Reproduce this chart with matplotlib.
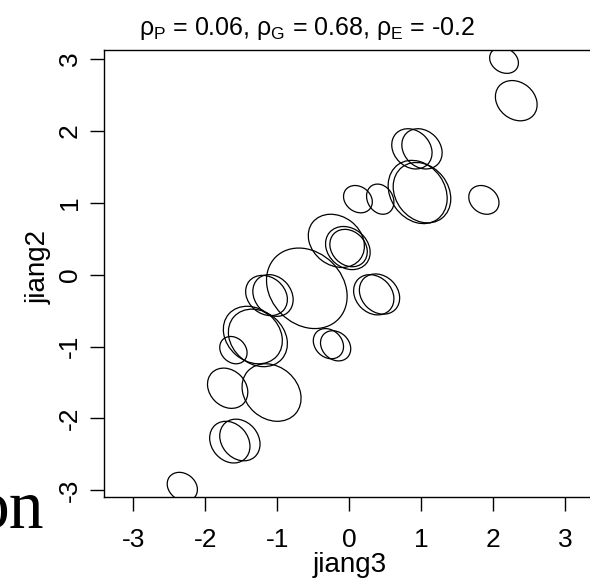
import numpy as np
import matplotlib

matplotlib.use("Agg")
import matplotlib.pyplot as plt
from matplotlib.patches import Ellipse

plt.rcParams["font.family"] = ["Liberation Sans", "DejaVu Sans"]
plt.rcParams["mathtext.fontset"] = "custom"
plt.rcParams["mathtext.rm"] = "Liberation Sans"
plt.rcParams["mathtext.it"] = "Liberation Sans"
plt.rcParams["mathtext.bf"] = "Liberation Sans:bold"

# ellipse centres (jiang3, jiang2), half-extents and shared correlation
cx = [2.15, 2.32, 0.87, 1.01, 0.95, 1.01, 0.12, 0.43, 1.87,
      -0.18, -0.02, -0.01, 0.34, 0.42, -0.29, -0.19, -0.59, -1.15,
      -1.06, -1.34, -1.27, -1.61, -1.69, -1.08, -1.66, -1.52, -2.32]
cy = [2.98, 2.42, 1.75, 1.75, 1.15, 1.14, 1.05, 1.05, 1.04,
      0.47, 0.37, 0.37, -0.28, -0.27, -0.96, -0.99, -0.19, -0.29,
      -0.29, -0.84, -0.88, -1.05, -1.58, -1.64, -2.33, -2.30, -2.95]
sx = [0.20, 0.29, 0.28, 0.28, 0.41, 0.40, 0.20, 0.19, 0.21,
      0.39, 0.31, 0.26, 0.28, 0.28, 0.21, 0.21, 0.56, 0.29,
      0.28, 0.41, 0.41, 0.19, 0.28, 0.41, 0.28, 0.28, 0.21]
sy = [0.18, 0.28, 0.28, 0.28, 0.44, 0.42, 0.19, 0.21, 0.20,
      0.37, 0.30, 0.26, 0.28, 0.28, 0.21, 0.21, 0.56, 0.28,
      0.29, 0.40, 0.40, 0.19, 0.28, 0.40, 0.29, 0.29, 0.20]
rho_e = -0.2

xticks = [-3, -2, -1, 0, 1, 2, 3]
yticks = [-3, -2, -1, 0, 1, 2, 3]

fig = plt.figure(figsize=(5.9, 5.86), dpi=100)
ax = fig.add_axes([104 / 590, 1 - 497 / 586, 490 / 590, 447 / 586])

for x0, y0, a, b in zip(cx, cy, sx, sy):
    cov = np.array([[a * a, rho_e * a * b], [rho_e * a * b, b * b]])
    vals, vecs = np.linalg.eigh(cov)
    ang = np.degrees(np.arctan2(vecs[1, 1], vecs[0, 1]))
    ax.add_patch(Ellipse((x0, y0), 2 * np.sqrt(vals[1]), 2 * np.sqrt(vals[0]),
                         angle=ang, fill=False, ec="black", lw=0.9))

ax.set_xlim(-3.408, 3.40)
ax.set_ylim(-3.093, 3.125)
ax.set_xticks(xticks)
ax.set_yticks(yticks)
ax.set_xticklabels([str(t) for t in xticks])
ax.set_yticklabels([str(t) for t in yticks], rotation=90, va="center")
ax.tick_params(direction="out", length=10, width=1, labelsize=19)
ax.tick_params(axis="x", pad=12)
ax.tick_params(axis="y", pad=6)
for s in ax.spines.values():
    s.set_linewidth(1.0)

# axis titles placed like the R device did
fig.text(350 / 590, 1 - 565 / 586, "jiang3", ha="center", va="center", fontsize=20)
fig.text(39 / 590, 1 - 267 / 586, "jiang2", ha="center", va="center",
         rotation=90, fontsize=20)

fig.text(307 / 590, 1 - 28 / 586,
         r"$\rho_{\mathrm{P}}$ = 0.06, $\rho_{\mathrm{G}}$ = 0.68, $\rho_{\mathrm{E}}$ = -0.2",
         ha="center", va="center", fontsize=18)

# leftover label from the neighbouring panel
fig.text(44 / 590, 1 - 528 / 586, "on", ha="right", va="baseline",
         fontsize=50, family="Liberation Serif")

fig.savefig("out.png", dpi=100)
